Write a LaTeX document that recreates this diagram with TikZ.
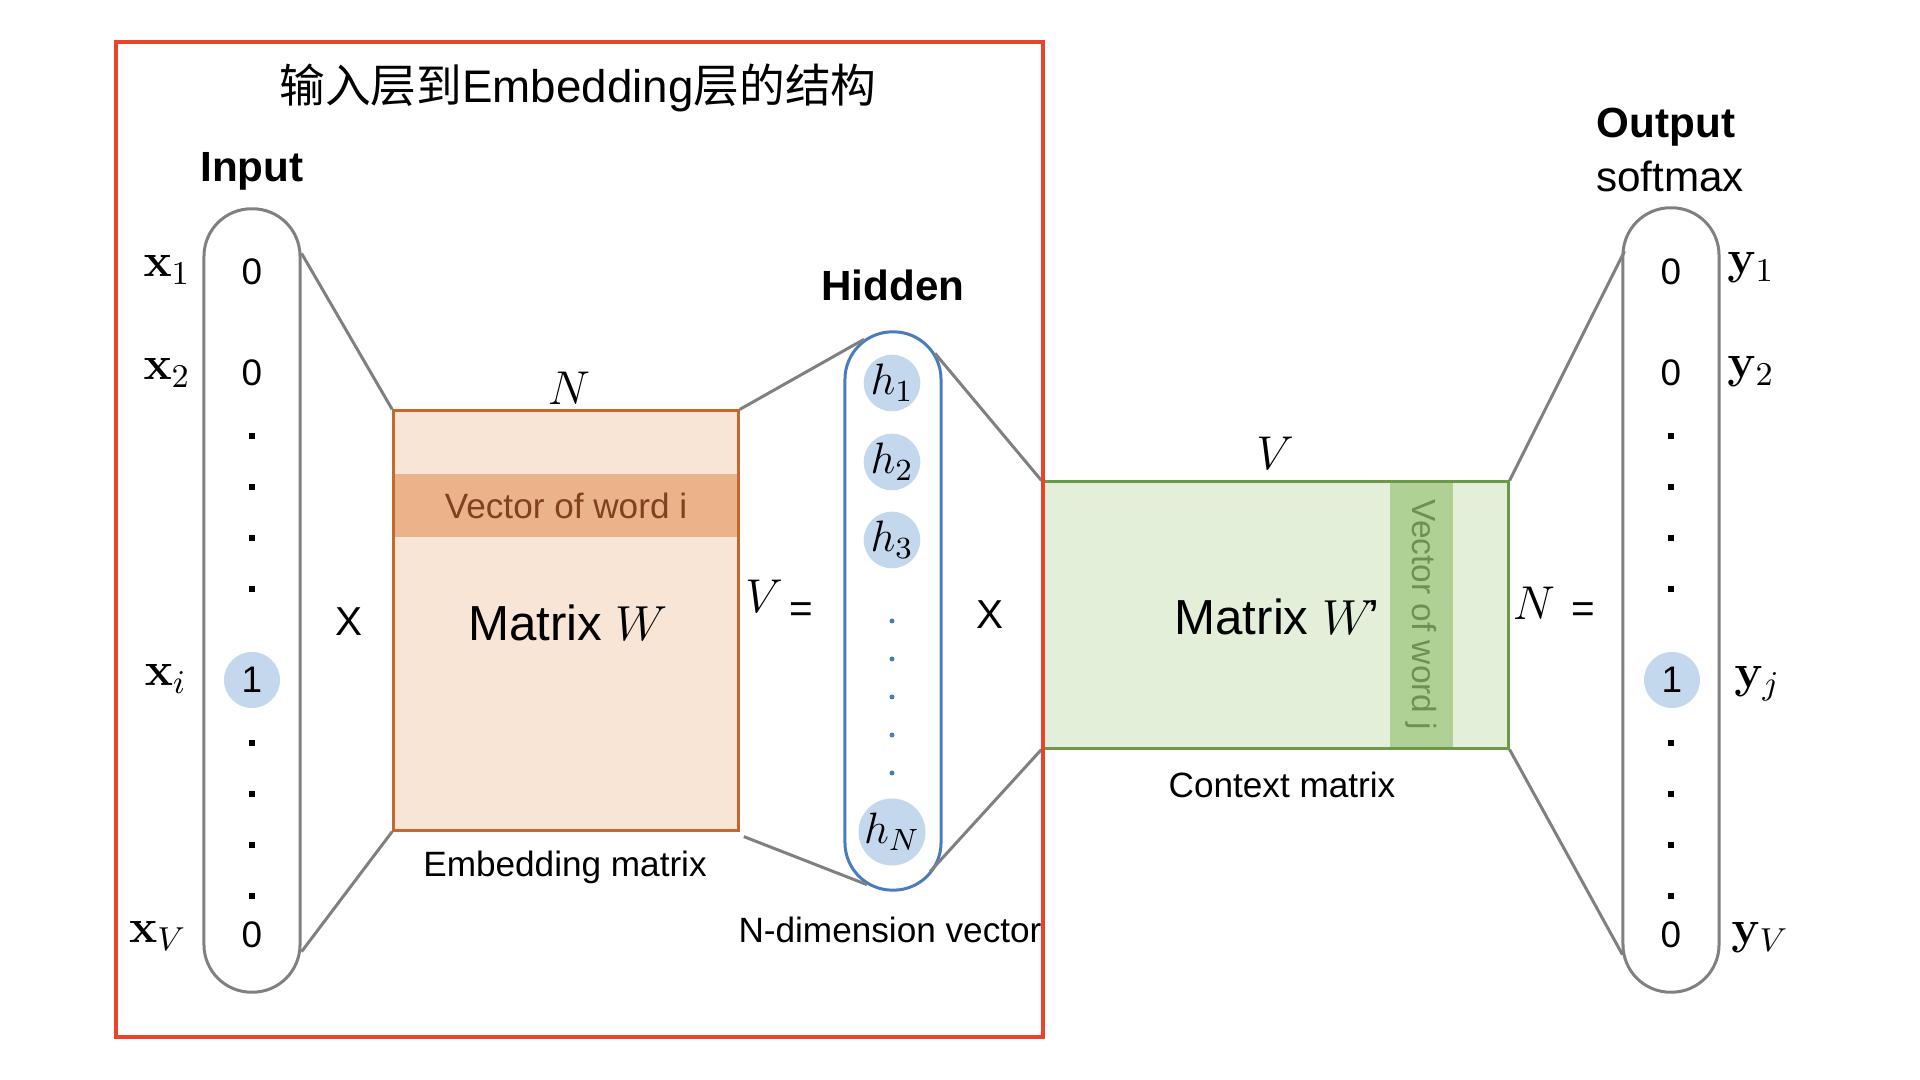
\RequirePackage{fix-cm}
\documentclass[tikz,border=0pt]{standalone}
\usepackage{amsmath}
\usepackage[no-math]{fontspec}
\setmainfont{Liberation Sans}
\newfontfamily\cjk{Noto Sans CJK SC}
\usepackage{tikz}
\usepackage{xcolor}

\definecolor{framered}{RGB}{234,67,43}
\definecolor{linegray}{RGB}{128,128,128}
\definecolor{wfill}{RGB}{248,229,214}
\definecolor{wborder}{RGB}{196,104,48}
\definecolor{wband}{RGB}{235,179,138}
\definecolor{wtext}{RGB}{128,66,28}
\definecolor{hblue}{RGB}{195,215,237}
\definecolor{pillblue}{RGB}{72,124,190}
\definecolor{cfill}{RGB}{227,239,217}
\definecolor{cborder}{RGB}{108,152,74}
\definecolor{cband}{RGB}{176,209,150}
\definecolor{ctext}{RGB}{108,146,80}

\newcommand{\setsize}[1]{\fontsize{#1}{#1}\selectfont}

\tikzset{
  pill/.style={draw=linegray, line width=0.03cm, rounded corners=0.475cm, minimum width=0.96cm, inner sep=0pt},
  conn/.style={draw=linegray, line width=0.03cm},
  val/.style={font=\setsize{10.5}},
  hot/.style={circle, fill=hblue, minimum size=0.56cm, inner sep=0pt, font=\setsize{10.5}},
  hid/.style={circle, fill=hblue, minimum size=0.56cm, inner sep=0pt, font=\setsize{12.5}},
  lab/.style={font=\setsize{13.5}},
  head/.style={font=\bfseries\setsize{12}},
  caption/.style={font=\setsize{10}},
  sign/.style={font=\setsize{11.5}},
  vdot/.style={rectangle, fill=black, minimum size=0.055cm, inner sep=0pt},
}

\begin{document}
\begin{tikzpicture}[x=0.01cm, y=-0.01cm]
  \useasboundingbox (0,0) rectangle (1920,1080);

  % Title of the framed part
  \node[font=\setsize{13}] (title) at (578,88) {{\cjk 输入层到}Embedding{\cjk 层的结构}};

  % Input layer (one-hot vector)
  \node[head] (inlabel) at (252,171) {Input};
  \node[pill, minimum height=7.83cm] (inpill) at (252,600.5) {};
  \node[val] (in1) at (252,272) {0};
  \node[val] (in2) at (252,373) {0};
  \node[hot] (ini) at (252,680) {1};
  \node[val] (inV) at (252,935) {0};
  \foreach \y [count=\k] in {436,487,538,589,743,794,845,896}
    \node[vdot] (indot\k) at (252,\y) {};

  \node[lab, anchor=east] (xlab1) at (203,270) {$\mathbf{x}_1$};
  \node[lab, anchor=east] (xlab2) at (203,373) {$\mathbf{x}_2$};
  \node[lab, anchor=east] (xlabi) at (199,679) {$\mathbf{x}_i$};
  \node[lab, anchor=east] (xlabV) at (199,936) {$\mathbf{x}_V$};

  \node[sign] (times1) at (349,622) {X};

  % Embedding matrix W
  \node[draw=wborder, fill=wfill, line width=0.03cm, minimum width=3.445cm, minimum height=4.19cm] (matW) at (566,620.5) {};
  \node[fill=wband, minimum width=3.41cm, minimum height=0.63cm, inner sep=0pt, text=wtext, font=\setsize{10}] (bandi) at (566,505.5) {Vector of word i};
  \node[font=\setsize{14}] (matWtext) at (568,623) {Matrix $W$};
  \node[lab] (Ntop) at (569,388) {$N$};
  \node[caption] (embcap) at (565,867) {Embedding matrix};

  \node[lab] (Vleft) at (764,596) {$V$};
  \node[sign] (eq1) at (801,613) {=};

  % Hidden layer
  \node[head] (hidlabel) at (893,285) {Hidden};
  \node[pill, draw=pillblue, minimum height=5.58cm] (hidpill) at (893,611) {};
  \node[hid] (h1) at (892,383) {$h_1$};
  \node[hid] (h2) at (892,462) {$h_2$};
  \node[hid] (h3) at (892,540) {$h_3$};
  \node[hid] (hN) at (892,832) {$h_N$};
  \foreach \y [count=\k] in {621,659,697,735,773}
    \node[circle, fill=pillblue, minimum size=0.05cm, inner sep=0pt] (hdot\k) at (892,\y) {};
  \node[caption] (hidcap) at (890,930) {N-dimension vector};

  \node[sign] (times2) at (990,615) {X};

  % Context matrix W'
  \node[draw=cborder, fill=cfill, line width=0.03cm, minimum width=4.65cm, minimum height=2.66cm] (matC) at (1275.5,615) {};
  \node[rotate=-90, fill=cband, minimum width=2.63cm, minimum height=0.63cm, inner sep=0pt, text=ctext, font=\setsize{9.5}] (bandj) at (1421.5,615) {Vector of word j};
  \node[font=\setsize{14}] (matCtext) at (1277,617) {Matrix $W$\kern-0.12em’};
  \node[lab] (Vtop) at (1275,453) {$V$};
  \node[caption] (ctxcap) at (1282,785) {Context matrix};

  \node[lab] (Nright) at (1534,603) {$N$};
  \node[sign] (eq2) at (1583,613) {=};

  % Output layer
  \node[head] (outlabel) at (1666,127) {Output};
  \node[font=\setsize{12}] (softlabel) at (1670,176) {softmax};
  \node[pill, minimum height=7.84cm] (outpill) at (1671,600) {};
  \node[val] (out1) at (1671,272) {0};
  \node[val] (out2) at (1671,373) {0};
  \node[hot] (outj) at (1672,680) {1};
  \node[val] (outV) at (1671,935) {0};
  \foreach \y [count=\k] in {436,487,538,589,743,794,845,896}
    \node[vdot] (outdot\k) at (1671,\y) {};

  \node[lab, anchor=west] (ylab1) at (1715,268) {$\mathbf{y}_1$};
  \node[lab, anchor=west] (ylab2) at (1715,372) {$\mathbf{y}_2$};
  \node[lab, anchor=west] (ylabj) at (1722,684) {$\mathbf{y}_j$};
  \node[lab, anchor=west] (ylabV) at (1719,938) {$\mathbf{y}_V$};

  % Draw the connectors
  \draw[conn] ([yshift=-0.46cm]inpill.north east) -- (matW.north west);
  \draw[conn] ([yshift=0.42cm]inpill.south east) -- (matW.south west);
  \draw[conn] (matW.north east) -- ([xshift=-0.29cm, yshift=-0.09cm]hidpill.north);
  \draw[conn] ([xshift=0.04cm, yshift=-0.05cm]matW.south east) -- ([xshift=-0.26cm, yshift=0.07cm]hidpill.south);
  \draw[conn] ([xshift=0.42cm, yshift=-0.23cm]hidpill.north) -- (matC.north west);
  \draw[conn] ([xshift=0.37cm, yshift=0.20cm]hidpill.south) -- (matC.south west);
  \draw[conn] (matC.north east) -- ([xshift=0.03cm, yshift=-0.45cm]outpill.north west);
  \draw[conn] (matC.south east) -- ([xshift=0.01cm, yshift=0.39cm]outpill.south west);

  % Red frame round the input-to-embedding part
  \draw[framered, line width=0.045cm] (116,42) rectangle (1043,1037);
\end{tikzpicture}
\end{document}
